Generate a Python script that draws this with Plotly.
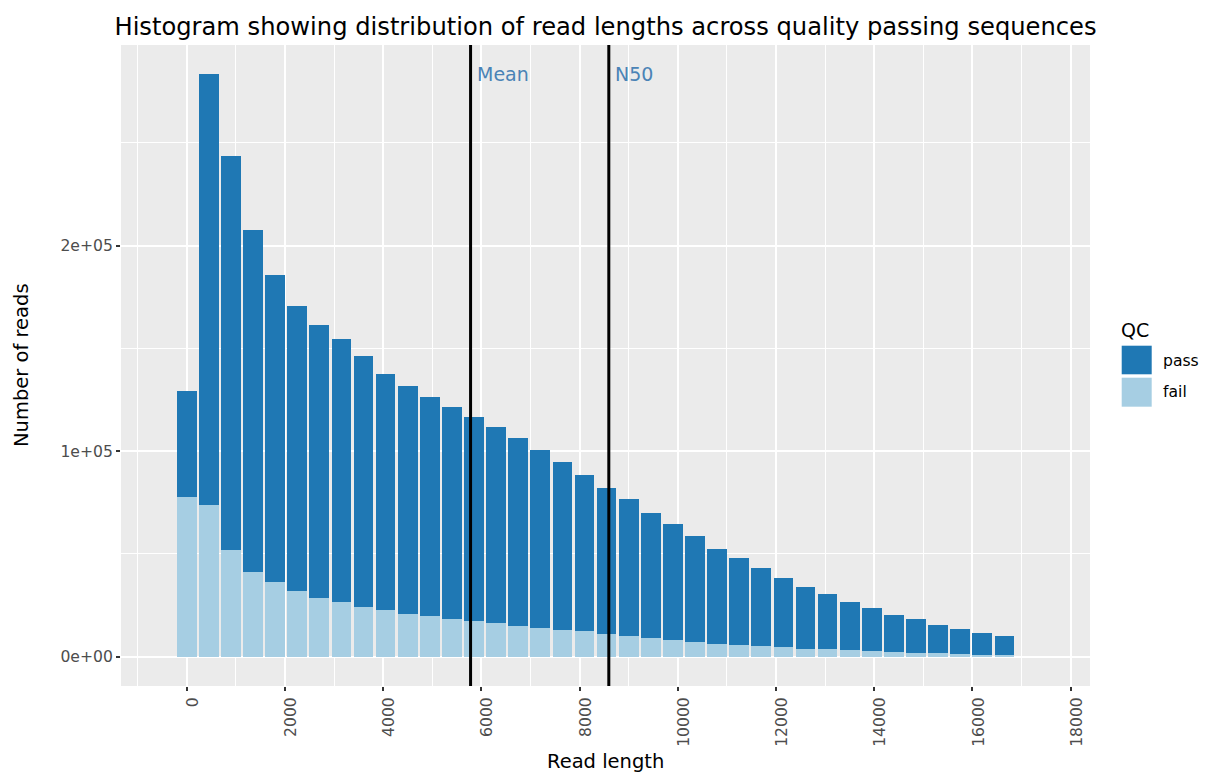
import plotly.graph_objects as go

# ---- data ----
read_length = [0, 450, 900, 1350, 1800, 2250, 2700, 3150, 3600, 4050,
               4500, 4950, 5400, 5850, 6300, 6750, 7200, 7650, 8100, 8550,
               9000, 9450, 9900, 10350, 10800, 11250, 11700, 12150, 12600, 13050,
               13500, 13950, 14400, 14850, 15300, 15750, 16200, 16650]
fail_reads = [77600, 73800, 51900, 41100, 36200, 32000, 28400, 26800, 24000, 22700,
              20900, 19800, 18300, 17400, 16400, 15100, 14100, 13000, 12400, 10900,
              10100, 9100, 8100, 7300, 6300, 5700, 5100, 4600, 3900, 3600,
              3100, 2600, 2300, 1900, 1700, 1300, 1000, 700]
pass_reads = [51800, 209800, 191900, 166700, 149500, 138700, 133200, 127900, 122300, 114900,
              110700, 106700, 103400, 99200, 95500, 91200, 86600, 81700, 76200, 71000,
              66500, 60700, 56300, 51400, 46300, 42200, 38100, 33800, 30200, 27100,
              23500, 21000, 18100, 16300, 13700, 12200, 10700, 9400]
mean_length = 5780
n50_length = 8595
x_ticks = [0, 2000, 4000, 6000, 8000, 10000, 12000, 14000, 16000, 18000]
y_ticks = [0, 100000, 200000]
y_tick_labels = ["0e+00", "1e+05", "2e+05"]

PASS_COLOR = "#1F78B4"
FAIL_COLOR = "#A6CEE3"
FONT = "DejaVu Sans"

W, H = 1215, 773
L, R, T, B = 121, 1090, 45, 686  # panel pixel box


def px(xp):
    return (xp - L) / (R - L)


def py(yp):
    return (B - yp) / (B - T)


fig = go.Figure()
fig.add_trace(go.Bar(x=read_length, y=fail_reads, name="fail",
                     marker=dict(color=FAIL_COLOR, line=dict(width=0)),
                     showlegend=False))
fig.add_trace(go.Bar(x=read_length, y=pass_reads, name="pass",
                     marker=dict(color=PASS_COLOR, line=dict(width=0)),
                     showlegend=False))

label_y = max(p + f for p, f in zip(pass_reads, fail_reads))

shapes = []
for xv in (mean_length, n50_length):
    shapes.append(dict(type="line", xref="x", yref="paper", x0=xv, x1=xv, y0=0, y1=1,
                       line=dict(color="black", width=3), layer="above"))

# custom legend keys
shapes.append(dict(type="rect", xref="paper", yref="paper",
                   x0=px(1121.7), x1=px(1151.7), y0=py(374.3), y1=py(345.7),
                   fillcolor=PASS_COLOR, line=dict(width=0)))
shapes.append(dict(type="rect", xref="paper", yref="paper",
                   x0=px(1121.7), x1=px(1151.7), y0=py(406.7), y1=py(377.7),
                   fillcolor=FAIL_COLOR, line=dict(width=0)))

annotations = [
    dict(text="Mean", x=mean_length, y=label_y, xref="x", yref="y", xanchor="left",
         yanchor="middle", xshift=4, showarrow=False,
         font=dict(family=FONT, size=19, color="#4A83B6")),
    dict(text="N50", x=n50_length, y=label_y, xref="x", yref="y", xanchor="left",
         yanchor="middle", xshift=4, showarrow=False,
         font=dict(family=FONT, size=19, color="#4A83B6")),
    dict(text="QC", x=px(1119), y=py(330), xref="paper", yref="paper", xanchor="left",
         yanchor="middle", showarrow=False, font=dict(family=FONT, size=19, color="black")),
    dict(text="pass", x=px(1161), y=py(361), xref="paper", yref="paper", xanchor="left",
         yanchor="middle", showarrow=False, font=dict(family=FONT, size=15.6, color="black")),
    dict(text="fail", x=px(1161), y=py(392), xref="paper", yref="paper", xanchor="left",
         yanchor="middle", showarrow=False, font=dict(family=FONT, size=15.6, color="black")),
    dict(text="Read length", x=0.5, y=py(761), xref="paper", yref="paper", xanchor="center",
         yanchor="middle", showarrow=False, font=dict(family=FONT, size=19.5, color="black")),
    dict(text="Number of reads", x=px(21), y=py(365), xref="paper", yref="paper",
         xanchor="center", yanchor="middle", textangle=-90, showarrow=False,
         font=dict(family=FONT, size=19.5, color="black")),
]

fig.update_layout(
    width=W, height=H,
    margin=dict(l=L, r=W - R, t=T, b=H - B, pad=0),
    paper_bgcolor="white",
    plot_bgcolor="#EBEBEB",
    barmode="stack",
    bargap=0.11,
    showlegend=False,
    title=dict(text="Histogram showing distribution of read lengths across quality passing sequences",
               x=0.5, xref="paper", xanchor="center", y=1 - 27 / H, yref="container",
               yanchor="middle", font=dict(family=FONT, size=24.2, color="black")),
    shapes=shapes,
    annotations=annotations,
    font=dict(family=FONT),
)

fig.update_xaxes(
    range=[-1338, 18393],
    tickmode="array", tickvals=x_ticks, ticktext=[str(v) for v in x_ticks],
    tickangle=-90, ticklabelshift=6,
    tickfont=dict(family=FONT, size=15.6, color="#4D4D4D"),
    ticks="outside", ticklen=4, tickwidth=1.5, tickcolor="#333333",
    showgrid=True, gridcolor="white", gridwidth=1.6,
    minor=dict(dtick=1000, tick0=1000, showgrid=True, gridcolor="white", gridwidth=0.8, ticks=""),
    zeroline=False, showline=False,
)
fig.update_yaxes(
    range=[-14260, 297660],
    tickmode="array", tickvals=y_ticks, ticktext=y_tick_labels,
    tickfont=dict(family=FONT, size=15.6, color="#4D4D4D"),
    ticks="outside", ticklen=4, tickwidth=1.5, tickcolor="#333333",
    showgrid=True, gridcolor="white", gridwidth=1.6,
    minor=dict(tickvals=[50000, 150000, 250000], showgrid=True, gridcolor="white",
               gridwidth=0.8, ticks=""),
    zeroline=False, showline=False,
)

fig.write_html("out.html",
               config={"displayModeBar": False},
               post_script="document.body.style.margin='0';document.body.style.overflow='hidden';")
